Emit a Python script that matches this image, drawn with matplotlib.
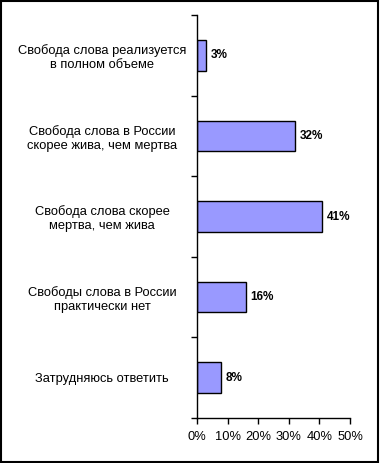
import matplotlib
matplotlib.use("Agg")
import matplotlib.pyplot as plt
from matplotlib.patches import Rectangle
from matplotlib.ticker import FixedLocator, NullFormatter

plt.rcParams['font.family'] = ['Liberation Sans', 'DejaVu Sans']

categories = [
    "Свобода слова реализуется\nв полном объеме",
    "Свобода слова в России\nскорее жива, чем мертва",
    "Свобода слова скорее\nмертва, чем жива",
    "Свободы слова в России\nпрактически нет",
    "Затрудняюсь ответить",
]
values = [3, 32, 41, 16, 8]
xticks = [0, 10, 20, 30, 40, 50]
xticklabels = ["0%", "10%", "20%", "30%", "40%", "50%"]

W, H = 380, 463
fig = plt.figure(figsize=(W / 100, H / 100), dpi=100)
ax = fig.add_axes([197 / W, 1 - 418 / H, (350 - 197) / W, (418 - 15) / H])

n = len(categories)
pos = list(range(n))
ax.barh(pos, values, height=0.38, color="#9999FF", edgecolor="black", linewidth=1.0)
ax.set_xlim(0, 50)
ax.set_ylim(n - 0.5, -0.5)

for p, v in zip(pos, values):
    ax.text(v + 1.5, p, f"{v}%", va="center", ha="left", fontsize=8.5, fontweight="bold")

ax.yaxis.set_major_locator(FixedLocator([i - 0.5 for i in range(n + 1)]))
ax.yaxis.set_major_formatter(NullFormatter())
ax.yaxis.set_minor_locator(FixedLocator(pos))
ax.set_yticklabels(categories, minor=True, fontsize=9.3, ha="center", multialignment="center")
ax.tick_params(axis="y", which="minor", length=0, pad=68.4)
ax.tick_params(axis="y", which="major", length=4, width=1, direction="out")

ax.set_xticks(xticks)
ax.set_xticklabels(xticklabels, fontsize=9.3)
ax.tick_params(axis="x", length=4, width=1, direction="out", pad=5)

for s in ["top", "right"]:
    ax.spines[s].set_visible(False)
for s in ["left", "bottom"]:
    ax.spines[s].set_linewidth(1.0)

fig.patches.append(Rectangle((0.5 / W, 1.5 / H), 377 / W, 460.5 / H, transform=fig.transFigure,
                             fill=False, edgecolor="black", linewidth=1.5))

fig.savefig("out.png", dpi=100)
